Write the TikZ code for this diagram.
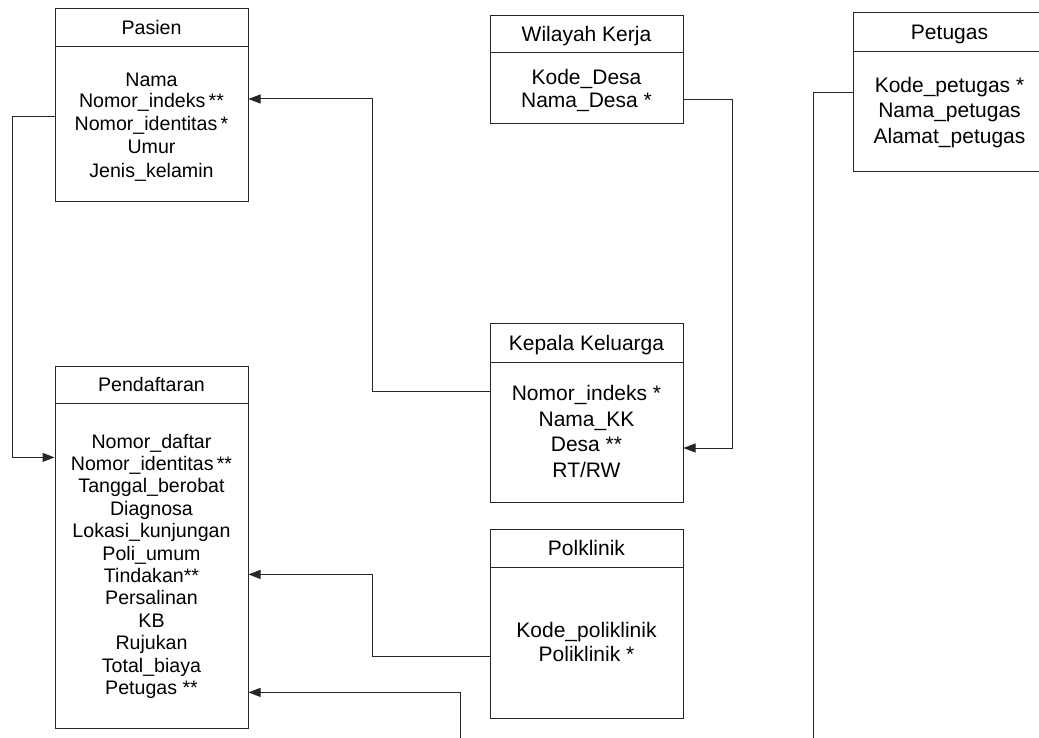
\documentclass[tikz,border=0pt]{standalone}
\usepackage{fontspec}
\setmainfont{Liberation Sans}
\usetikzlibrary{arrows.meta,calc}
\newcommand\smallface{\fontsize{19.6}{22.4}\selectfont}
\newcommand\largeface{\fontsize{21}{25}\selectfont}

\begin{document}
\begin{tikzpicture}[x=1pt,y=-1pt,
  frame/.style={draw=black!85, line width=1pt, minimum width=193pt, inner sep=0pt,
                text height=16pt, text depth=2pt},
  bigframe/.style={frame, font=\largeface, text height=17pt, text depth=2pt},
  smallframe/.style={frame, font=\smallface},
  fa/.style={font=\smallface, inner sep=0pt, text height=16pt, text depth=2pt},
  fb/.style={font=\largeface, inner sep=0pt, text height=17pt, text depth=2pt},
  link/.style={draw=black!85, line width=1pt},
  arrowlink/.style={link, -{Triangle[length=12pt,width=9pt]}},
]
\useasboundingbox (0,0) rectangle (1039,738);

% ---- Pasien ----
\node[smallframe, minimum height=38pt] (pasien-h) at (151.5,28) {Pasien};
\node[frame, minimum height=155pt] (pasien) at (151.5,124.5) {};
\node[fa] (p1) at (151.5,80) {Nama};
\node[fa] (p2) at (151.5,101) {Nomor\_indeks\,**};
\node[fa] (p3) at (151.5,124) {Nomor\_identitas\,*};
\node[fa] (p4) at (151.5,147) {Umur};
\node[fa] (p5) at (151.5,171) {Jenis\_kelamin};

% ---- Pendaftaran ----
\node[smallframe, minimum height=37pt] (pen-h) at (151.5,384.5) {Pendaftaran};
\node[frame, minimum height=325pt] (pen) at (151.5,565.5) {};
\foreach \i/\t in {1/Nomor\_daftar, 2/Nomor\_identitas\,**, 3/Tanggal\_berobat,
                   4/Diagnosa, 5/Lokasi\_kunjungan, 6/Poli\_umum, 7/Tindakan**,
                   8/Persalinan, 9/KB, 10/Rujukan, 11/Total\_biaya, 12/Petugas **}
  \node[fa] (pd\i) at (151.5,{441+22.4*(\i-1)}) {\t};

% ---- Wilayah Kerja ----
\node[bigframe, minimum height=37pt] (wil-h) at (586.5,34.5) {Wilayah Kerja};
\node[frame, minimum height=71pt] (wil) at (586.5,88.5) {};
\node[fb] (w1) at (586.5,77) {Kode\_Desa};
\node[fb] (w2) at (586.5,100) {Nama\_Desa *};

% ---- Kepala Keluarga ----
\node[bigframe, minimum height=39pt] (kepala-h) at (586.5,342.5) {Kepala Keluarga};
\node[frame, minimum height=140pt] (kepala) at (586.5,432) {};
\node[fb] (kk1) at (586.5,393) {Nomor\_indeks *};
\node[fb] (kk2) at (586.5,418.5) {Nama\_KK};
\node[fb] (kk3) at (586.5,444) {Desa **};
\node[fb] (kk4) at (586.5,469.5) {RT/RW};

% ---- Polklinik ----
\node[bigframe, minimum height=38pt] (polk-h) at (586.5,548) {Polklinik};
\node[frame, minimum height=151pt] (polk) at (586.5,642.5) {};
\node[fb] (pk1) at (586.5,630) {Kode\_poliklinik};
\node[fb] (pk2) at (586.5,654) {Poliklinik *};

% ---- Petugas ----
\node[bigframe, minimum height=39pt] (pet-h) at (949.5,32.5) {Petugas};
\node[frame, minimum height=120pt] (pet) at (949.5,112) {};
\node[fb] (pt1) at (949.5,85) {Kode\_petugas *};
\node[fb] (pt2) at (949.5,110.5) {Nama\_petugas};
\node[fb] (pt3) at (949.5,136) {Alamat\_petugas};

% ---- routing lanes and loose ends ----
\coordinate (laneA) at (372,0);
\coordinate (laneB) at (732,0);
\coordinate (laneC) at (12,0);
\coordinate (dropA) at (460,738);
\coordinate (dropB) at (813,738);

% ---- relations ----
\draw[arrowlink] ($(kepala.west |- kk1)+(0,-2)$) -| ($(laneA |- p2)+(0,-2)$) -- ($(pasien.east |- p2)+(0,-2)$);
\draw[arrowlink] (wil.east |- w2) -| ($(laneB |- kk3)+(0,4)$) -- ($(kepala.east |- kk3)+(0,4)$);
\draw[arrowlink] ($(pasien.west |- p3)+(0,-7)$) -| ($(laneC |- pd2)+(0,-6)$) -- ($(pen.west |- pd2)+(0,-6)$);
\draw[arrowlink] ($(polk.west |- pk2)+(0,2)$) -| ($(laneA |- pd7)+(0,-1)$) -- ($(pen.east |- pd7)+(0,-1)$);
\draw[arrowlink] (dropA) |- ($(pen.east |- pd12)+(0,5)$);
\draw[link] ($(pet.west |- pt1)+(0,8)$) -| (dropB);
\end{tikzpicture}
\end{document}
